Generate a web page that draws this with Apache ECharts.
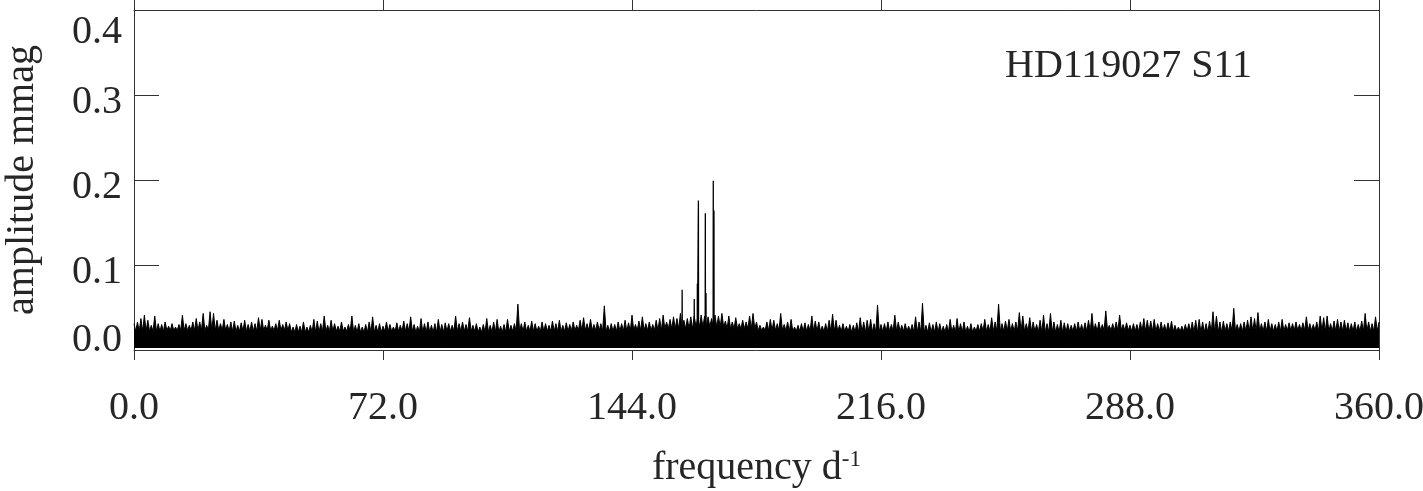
<!DOCTYPE html>
<html>
<head>
<meta charset="utf-8">
<title>HD119027 S11 amplitude spectrum</title>
<script src="https://cdn.jsdelivr.net/npm/echarts@6/dist/echarts.min.js"></script>
<style>
  html, body { margin: 0; padding: 0; background: #fff; }
  #chart { width: 1423px; height: 491px; }
</style>
</head>
<body>
<div id="chart"></div>
<script>
// amplitude (mmag) of the highest spike in each 1 d^-1 bin, index = frequency
const noiseAmp = [
  .031,.033,.037,.041,.035,.029,.040,.031,.030,.033,.028,.031,.027,.030,.041,.031,.029,.033,.037,.033,
  .043,.029,.045,.043,.035,.031,.036,.030,.033,.034,.029,.032,.035,.030,.033,.031,.038,.036,.029,.035,
  .028,.031,.035,.030,.033,
  .031,.027,.030,.028,.033,.027,.029,.036,.034,.031,.040,.029,.035,.031,.028,.033,.027,.030,.040,.029,
  .031,.027,.030,.033,.039,.029,.031,.028,.033,.030,.027,.032,.029,.034,.031,.039,.030,.028,.037,.031,
  .033,.029,.031,.036,.030,.032,
  .031,.029,.040,.031,.033,.030,.038,.029,.031,.027,.030,.037,.029,.033,.036,.028,.030,.036,.029,.031,
  .054,.031,.033,.029,.034,.031,.028,.033,.031,.029,.034,.031,.035,.029,.032,.030,.033,.029,.035,.038,
  .031,.036,.030,.033,.031,
  .052,.029,.031,.030,.033,.031,.035,.032,.041,.030,.034,.039,.031,.033,.030,.035,.037,.041,.033,.036,
  .039,.037,.043,.035,.037,.039,.040,.038,.041,.040,.039,.037,.041,.040,.043,.034,.040,.033,.038,.031,
  .035,.033,.040,.043,.033,
  .029,.027,.033,.036,.035,.031,.043,.030,.033,.036,.027,.029,.031,.032,.030,.040,.034,.033,.028,.031,
  .035,.042,.035,.029,.031,.028,.030,.029,.032,.038,.033,.035,.036,.031,.053,.030,.031,.033,.030,.041,
  .033,.029,.031,.028,.030,
  .039,.033,.055,.029,.032,.030,.033,.031,.028,.030,.036,.029,.037,.031,.033,.028,.031,.027,.030,.031,
  .036,.030,.038,.033,.054,.031,.034,.036,.031,.033,.044,.040,.031,.038,.033,.030,.035,.041,.031,.043,
  .033,.030,.035,.032,.031,
  .029,.031,.033,.030,.032,.035,.043,.031,.033,.030,.046,.029,.031,.033,.041,.030,.032,.029,.031,.030,
  .033,.037,.035,.034,.036,.031,.033,.030,.032,.034,.029,.027,.028,.030,.031,.033,.035,.036,.033,.031,
  .034,.045,.040,.033,.034,
  .031,.033,.049,.030,.031,.033,.035,.039,.037,.044,.031,.033,.036,.031,.030,.033,.036,.030,.032,.031,
  .033,.030,.032,.039,.031,.030,.033,.040,.038,.040,.031,.034,.036,.033,.035,.032,.031,.033,.030,.034,
  .043,.033,.031,.039,.033
];

// top of the solid noise band, one value per 9 d^-1
const floorStep = 9;
const noiseFloor = [
  .022,.023,.023,.022,.023,.021,.022,.021,.022,.021,.022,.021,.022,.022,.023,.022,.023,.025,.027,.025,
  .023,.022,.022,.021,.022,.021,.021,.022,.022,.021,.022,.023,.022,.022,.021,.022,.022,.023,.022,.022,.022
];

// the pulsation peaks
const peakFreq = [158.5, 162.0, 162.9, 163.2, 165.2, 165.4, 167.5, 167.7];
const peakAmp = [0.071, 0.060, 0.078, 0.176, 0.161, 0.067, 0.199, 0.164];

const xTicks = { min: 0, max: 360, interval: 72 };
const yTicks = { min: 0, max: 0.4, interval: 0.1 };

const noiseLine = [];
for (let i = 0; i < noiseAmp.length; i++) {
  noiseLine.push([i, noiseAmp[i]]);
  if (i < noiseAmp.length - 1) {
    noiseLine.push([i + 0.5, noiseFloor[Math.floor(i / floorStep)]]);
  }
}

const peakLine = [];
peakFreq.forEach((f, k) => {
  const base = noiseFloor[Math.floor(f / floorStep)];
  peakLine.push([f - 0.04, base], [f, peakAmp[k]], [f + 0.04, base]);
});

const FONT = 'Liberation Serif';
const TXT = '#262626';
const AX = '#333';

const chart = echarts.init(document.getElementById('chart'));
chart.setOption({
  animation: false,
  backgroundColor: '#fff',
  grid: { left: 134, right: 44, top: 10, bottom: 141, containLabel: false, outerBoundsMode: 'none' },
  xAxis: [
    {
      type: 'value', position: 'bottom',
      min: xTicks.min, max: xTicks.max, interval: xTicks.interval,
      name: '{a|frequency d}{s|-1}',
      nameLocation: 'middle', nameGap: 98,
      nameTextStyle: {
        rich: {
          a: { fontFamily: FONT, fontSize: 40, color: TXT },
          s: { fontFamily: FONT, fontSize: 23, color: TXT, verticalAlign: 'top', padding: [0, 0, 18, 0] }
        }
      },
      axisLine: { show: true, onZero: false, lineStyle: { color: AX, width: 1 } },
      axisTick: { inside: false, length: 10, lineStyle: { color: AX } },
      splitLine: { show: false },
      axisLabel: {
        fontFamily: FONT, fontSize: 40, color: TXT, margin: 38,
        showMaxLabel: true, showMinLabel: true, hideOverlap: false,
        formatter: (v) => v.toFixed(1)
      }
    },
    {
      type: 'value', position: 'top',
      min: xTicks.min, max: xTicks.max, interval: xTicks.interval,
      axisLine: { show: true, onZero: false, lineStyle: { color: AX, width: 1 } },
      axisTick: { inside: false, length: 10, lineStyle: { color: AX } },
      axisLabel: { show: false },
      splitLine: { show: false }
    }
  ],
  yAxis: [
    {
      type: 'value', position: 'left',
      min: yTicks.min, max: yTicks.max, interval: yTicks.interval,
      name: 'amplitude mmag', nameLocation: 'middle', nameGap: 92, nameRotate: 90,
      nameTextStyle: { fontFamily: FONT, fontSize: 40, color: TXT },
      axisLine: { show: true, onZero: false, lineStyle: { color: AX, width: 1 } },
      axisTick: { show: true, inside: true, length: 25, lineStyle: { color: AX } },
      splitLine: { show: false },
      axisLabel: {
        margin: 12, showMaxLabel: true, showMinLabel: true,
        formatter: (v) => {
          const s = v.toFixed(1);
          if (v > 0.35) return '{top|' + s + '}';
          if (v < 0.05) return '{bot|' + s + '}';
          return '{mid|' + s + '}';
        },
        rich: {
          top: { fontFamily: FONT, fontSize: 40, color: TXT, padding: [44, 0, 0, 0] },
          mid: { fontFamily: FONT, fontSize: 40, color: TXT, padding: [14, 0, 0, 0] },
          bot: { fontFamily: FONT, fontSize: 40, color: TXT, padding: [0, 0, 20, 0] }
        }
      }
    },
    {
      type: 'value', position: 'right',
      min: yTicks.min, max: yTicks.max, interval: yTicks.interval,
      axisLine: { show: true, onZero: false, lineStyle: { color: AX, width: 1 } },
      axisTick: { show: true, inside: true, length: 25, lineStyle: { color: AX } },
      axisLabel: { show: false },
      splitLine: { show: false }
    }
  ],
  graphic: [
    {
      type: 'text', x: 1005, y: 66,
      style: {
        text: 'HD119027 S11', fontFamily: FONT, fontSize: 40, fill: TXT,
        align: 'left', verticalAlign: 'middle'
      }
    }
  ],
  series: [
    {
      name: 'noise', type: 'line', data: noiseLine,
      showSymbol: false, symbol: 'none', sampling: false, silent: true,
      lineStyle: { color: '#000', width: 1 },
      areaStyle: { color: '#000', opacity: 1, origin: 0.0025 },
      clip: true
    },
    {
      name: 'peaks', type: 'line', data: peakLine,
      showSymbol: false, symbol: 'none', silent: true,
      lineStyle: { color: '#000', width: 1.3 },
      clip: true
    }
  ]
});
</script>
</body>
</html>
